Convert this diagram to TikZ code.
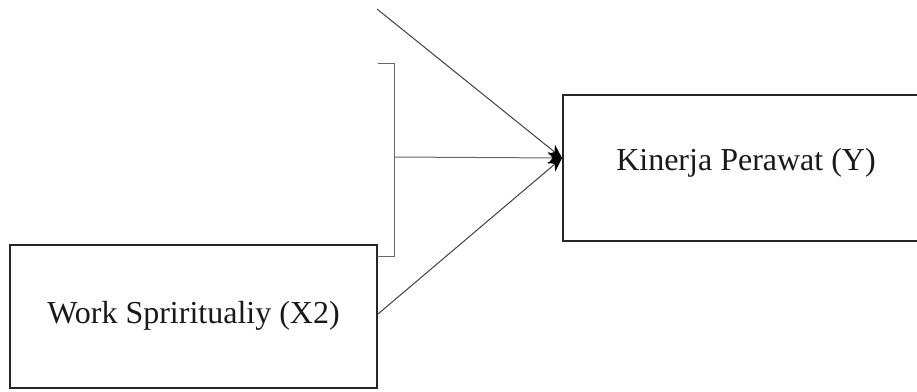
\documentclass[tikz,border=0pt]{standalone}
\usepackage{fontspec}
\setmainfont{Liberation Serif}
\usetikzlibrary{arrows.meta}
\begin{document}
\begin{tikzpicture}[x=1bp,y=-1bp,
  varbox/.style={draw=black!85,line width=1.6bp,minimum width=0pt,inner sep=0pt},
  label/.style={font=\fontsize{32bp}{38bp}\selectfont,text=black!90},
  link/.style={draw=black!75,line width=1bp},
  tip/.style={-{Stealth[length=14bp,width=12bp,color=black]}}]
\useasboundingbox (0,0) rectangle (917,391);
\begin{scope}
\clip (0,0) rectangle (917,391);
% boxes
\draw[varbox] (10,245) rectangle (377,388);
\draw[varbox] (563,95) rectangle (935,241);
\end{scope}
\node[label] (x2) at (193.5,316) {Work Spriritualiy (X2)};
\node[label] (y) at (746,163) {Kinerja Perawat (Y)};
% anchor points of the connectors
\coordinate (tgt) at (562,158);
\coordinate (top) at (377,9);
\coordinate (bTop) at (378,63);
\coordinate (bTopR) at (394,63);
\coordinate (bMid) at (394,157);
\coordinate (bBot) at (394,256);
\coordinate (bBotL) at (377,256);
\coordinate (x2r) at (378,314);
% bracket joining the inputs
\draw[link,draw=black!60] (bTop) -- (bTopR) -- (bBot) -- (bBotL);
% arrows into the outcome
\draw[link,tip] (top) -- (tgt);
\draw[link,draw=black!60,tip] (bMid) -- (tgt);
\draw[link,tip] (x2r) -- (tgt);
\end{tikzpicture}
\end{document}
